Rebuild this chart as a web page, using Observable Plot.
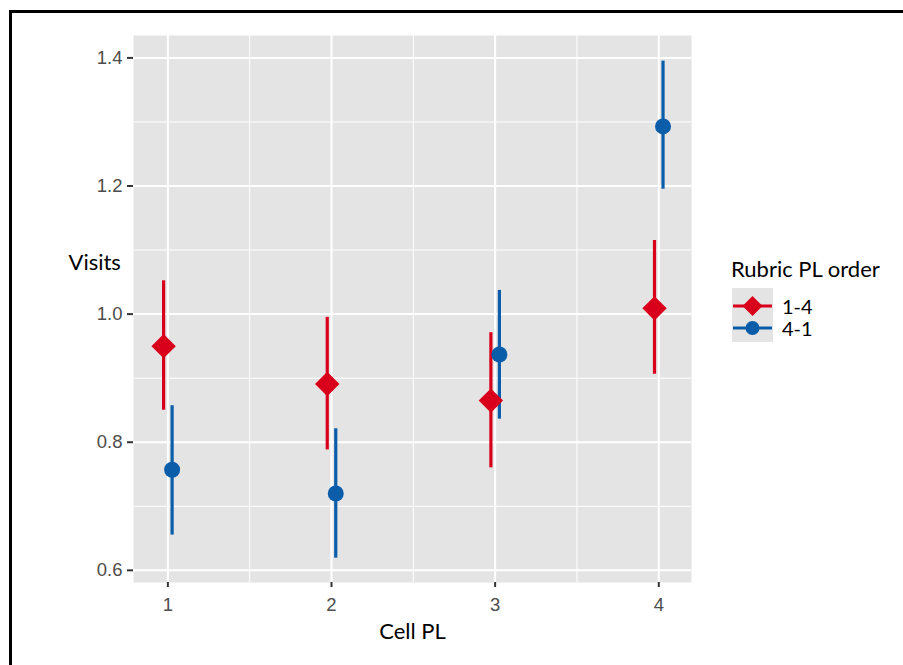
<!DOCTYPE html>
<html><head><meta charset="utf-8">
<script src="https://cdn.jsdelivr.net/npm/d3@7"></script>
<script src="https://cdn.jsdelivr.net/npm/@observablehq/plot@0.6"></script>
<style>
body{margin:0;background:#fff;}
#wrap{position:relative;width:903px;height:665px;overflow:hidden;background:#fff;}
#frame{position:absolute;left:9px;top:10px;width:1000px;height:1000px;border-left:3px solid #000;border-top:3px solid #000;box-sizing:border-box;}
#chart{position:absolute;left:0;top:0;}
#chart svg [aria-label$="tick label"], #chart svg [aria-label$="tick label"] text{font-size:18.5px;}
#legend{position:absolute;left:731px;top:256px;font-family:Lato,'Open Sans',sans-serif;color:#000;}
#legend .title{font-size:22px;line-height:26px;white-space:nowrap;}
#legend .keys{position:absolute;left:1px;top:32px;width:41px;height:54px;background:#E4E4E4;}
#legend .lab{position:absolute;left:51px;font-size:20px;line-height:20px;height:20px;white-space:nowrap;}
</style></head><body>
<div id="wrap"><div id="frame"></div><div id="chart"></div><div id="legend"></div></div>
<script>
const cells = [1, 2, 3, 4];
const groups = ["1-4", "4-1"];
const mean14 = [0.950, 0.891, 0.865, 1.009];
const lo14   = [0.850, 0.788, 0.760, 0.906];
const hi14   = [1.052, 0.995, 0.971, 1.115];
const mean41 = [0.757, 0.720, 0.937, 1.293];
const lo41   = [0.655, 0.619, 0.836, 1.195];
const hi41   = [0.857, 0.821, 1.037, 1.395];
const yTicks = [0.6, 0.8, 1.0, 1.2, 1.4];
const yMinor = [0.7, 0.9, 1.1, 1.3];
const xTicks = [1, 2, 3, 4];
const xMinor = [1.5, 2.5, 3.5];

const RED = "#D8001A", BLUE = "#0B5DAA";
const dodge = 0.026;
const rows14 = cells.map((c, i) => ({cell: c, g: groups[0], x: c - dodge, m: mean14[i], lo: lo14[i], hi: hi14[i]}));
const rows41 = cells.map((c, i) => ({cell: c, g: groups[1], x: c + dodge, m: mean41[i], lo: lo41[i], hi: hi41[i]}));

const chart = Plot.plot({
  width: 903, height: 665,
  marginLeft: 133, marginRight: 212, marginTop: 35, marginBottom: 83,
  style: {fontFamily: "'Liberation Sans', Arial, sans-serif", fontSize: "18.5px", background: "transparent", overflow: "visible"},
  x: {domain: [0.79, 4.2], axis: null},
  y: {domain: [0.581, 1.435], axis: null},
  marks: [
    Plot.frame({fill: "#E4E4E4", stroke: "none"}),
    Plot.ruleY(yMinor, {stroke: "#fff", strokeWidth: 1}),
    Plot.ruleX(xMinor, {stroke: "#fff", strokeWidth: 1}),
    Plot.ruleY(yTicks, {stroke: "#fff", strokeWidth: 2}),
    Plot.ruleX(xTicks, {stroke: "#fff", strokeWidth: 2}),
    Plot.axisY({ticks: yTicks, tickFormat: d3.format(".1f"), tickSize: 6, tickPadding: 5, fontSize: 18.5, fill: "#4d4d4d", stroke: "#333", strokeWidth: 2, label: null}),
    Plot.axisX({ticks: xTicks, tickFormat: d => String(d), tickSize: 5, tickPadding: 10, fontSize: 18.5, fill: "#4d4d4d", stroke: "#333", strokeWidth: 2, label: null}),
    Plot.ruleX(rows14, {x: "x", y1: "lo", y2: "hi", stroke: RED, strokeWidth: 3.2}),
    Plot.ruleX(rows41, {x: "x", y1: "lo", y2: "hi", stroke: BLUE, strokeWidth: 3.2}),
    Plot.dot(rows14, {x: "x", y: "m", symbol: "diamond2", r: 11, fill: RED, stroke: "none"}),
    Plot.dot(rows41, {x: "x", y: "m", symbol: "circle", r: 8, fill: BLUE, stroke: "none"}),
    Plot.text(["Visits"], {text: d => d, frameAnchor: "left", dx: -65, dy: -46, fontSize: 22, fontFamily: "Lato", fill: "#000"}),
    Plot.text(["Cell PL"], {text: d => d, frameAnchor: "bottom", dy: 56, fontSize: 22, fontFamily: "Lato", fill: "#000"})
  ]
});
document.getElementById("chart").appendChild(chart);

// Legend
const legend = document.getElementById("legend");
legend.innerHTML = `
  <div class="title">Rubric PL order</div>
  <div class="keys">
    <svg width="41" height="54">
      <line x1="1" x2="40" y1="18" y2="18" stroke="${RED}" stroke-width="3"/>
      <path d="M20.5,8 L30.5,18 L20.5,28 L10.5,18 Z" fill="${RED}"/>
      <line x1="1" x2="40" y1="40" y2="40" stroke="${BLUE}" stroke-width="3"/>
      <circle cx="20.5" cy="40" r="7" fill="${BLUE}"/>
    </svg>
  </div>
  <div class="lab" style="top:40px">${groups[0]}</div>
  <div class="lab" style="top:62px">${groups[1]}</div>`;
</script>
</body></html>
